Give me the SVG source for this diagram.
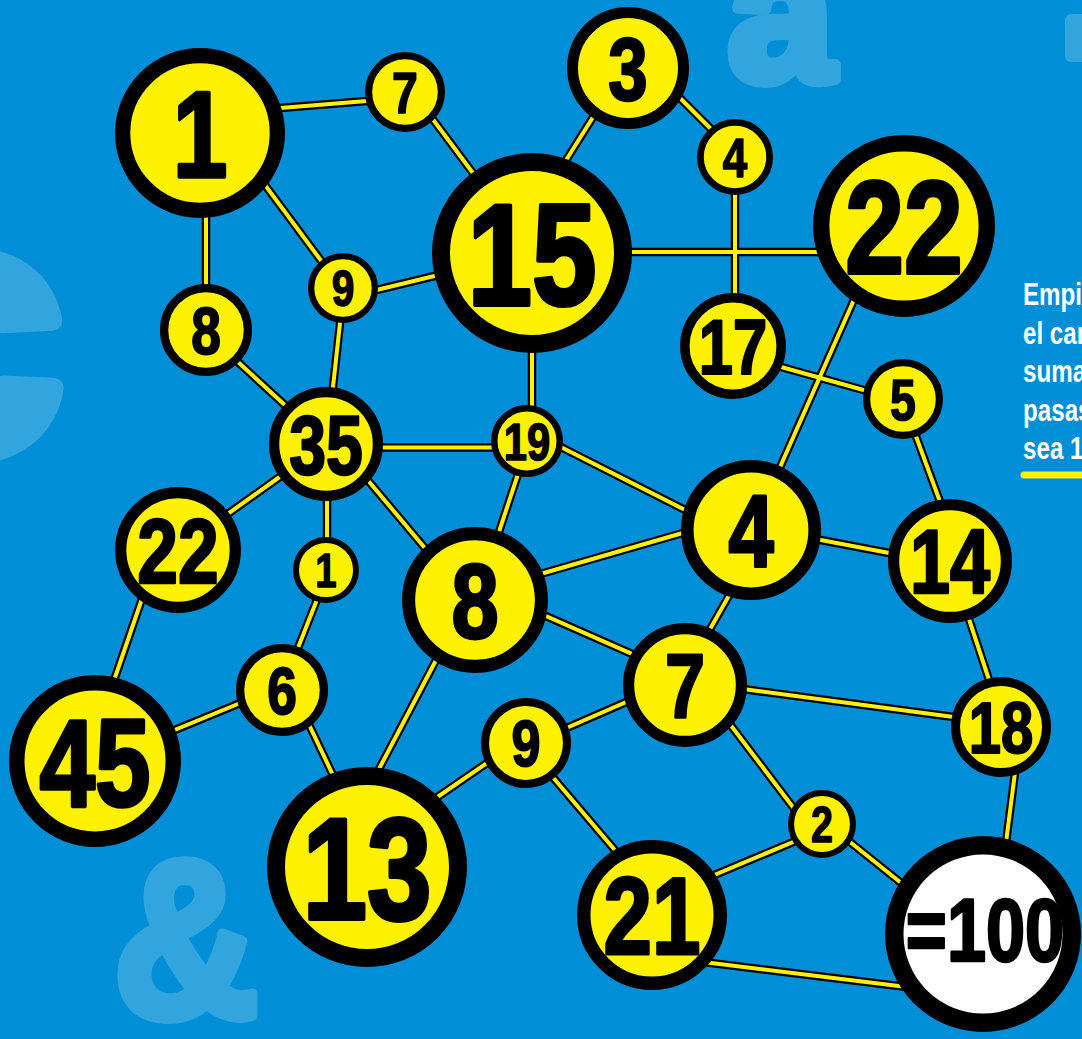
<svg xmlns="http://www.w3.org/2000/svg" width="1082" height="1039" viewBox="0 0 1082 1039">
<style>
.bgl{fill:#33a5de;stroke:#33a5de;stroke-linejoin:round;font-family:"Liberation Sans",Arial,sans-serif;font-weight:bold}
.ek{stroke:#000;stroke-width:8.5;fill:none}
.ey{stroke:#fff200;stroke-width:4;fill:none}
.nd{fill:#fff200;stroke:#000}
.t{font-family:"Liberation Sans",Arial,sans-serif;font-weight:bold;text-anchor:middle;fill:#000;stroke:#000;stroke-linejoin:round}
.side{font-family:"Liberation Sans",Arial,sans-serif;font-weight:bold;fill:#fff;font-size:31px}
</style>
<defs>
<g id="edges">
<line x1="265" y1="109.2" x2="385" y2="99.4"/>
<line x1="206" y1="200" x2="206" y2="300"/>
<line x1="255" y1="171.5" x2="335" y2="279.5"/>
<line x1="420" y1="102" x2="490" y2="196"/>
<line x1="600" y1="106" x2="553" y2="181"/>
<line x1="665" y1="83" x2="725" y2="143"/>
<line x1="735" y1="170" x2="735" y2="310"/>
<line x1="620" y1="252" x2="830" y2="252"/>
<line x1="360" y1="294" x2="455" y2="271"/>
<line x1="342" y1="305" x2="331" y2="405"/>
<line x1="226" y1="351" x2="300" y2="419"/>
<line x1="532" y1="340" x2="532" y2="420"/>
<line x1="370" y1="447.5" x2="505" y2="447.5"/>
<line x1="760" y1="361" x2="885" y2="396"/>
<line x1="858.3" y1="290" x2="769.9" y2="490"/>
<line x1="910" y1="420" x2="946" y2="518"/>
<line x1="545" y1="439" x2="700" y2="517.5"/>
<line x1="295" y1="466" x2="215" y2="523"/>
<line x1="327" y1="485" x2="327" y2="550"/>
<line x1="355" y1="465" x2="440" y2="566"/>
<line x1="521" y1="465" x2="494" y2="547"/>
<line x1="530" y1="577" x2="700" y2="528"/>
<line x1="805" y1="537" x2="905" y2="556"/>
<line x1="735" y1="585" x2="705" y2="638"/>
<line x1="530" y1="609" x2="645" y2="659.6"/>
<line x1="145" y1="590" x2="110" y2="692"/>
<line x1="320" y1="592" x2="294" y2="658"/>
<line x1="160" y1="736" x2="250" y2="699"/>
<line x1="304" y1="714" x2="340" y2="790"/>
<line x1="445" y1="643" x2="368" y2="790"/>
<line x1="966" y1="610" x2="993" y2="692"/>
<line x1="735" y1="688" x2="965" y2="718.5"/>
<line x1="640" y1="696" x2="555" y2="733"/>
<line x1="500" y1="754" x2="420" y2="809"/>
<line x1="545" y1="768" x2="625" y2="862"/>
<line x1="723" y1="715" x2="805" y2="823"/>
<line x1="805" y1="837" x2="700" y2="881"/>
<line x1="840" y1="834" x2="915" y2="894"/>
<line x1="1016" y1="765" x2="1005" y2="850"/>
<line x1="695" y1="961" x2="915" y2="988"/>
</g>
</defs>
<rect x="0" y="0" width="1082" height="1039" fill="#008fd6"/>
<g id="background-letters">
<text class="bgl" x="728" y="80" font-size="190" stroke-width="12">a</text>
<text class="bgl" x="-136" y="451" font-size="360" stroke-width="20">c</text>
<text class="bgl" font-size="225" stroke-width="10" transform="translate(113 1017) scale(0.9 1)">&amp;</text>
<rect x="1065" y="14" width="30" height="48" rx="6" fill="#33a5de"/>
</g>
<g id="connectors">
<use href="#edges" class="ek"/>
<use href="#edges" class="ey"/>
</g>
<g id="n1"><circle class="nd" cx="200" cy="133" r="77.35" stroke-width="15.3"/><text class="t" font-size="123" stroke-width="3.6" transform="translate(200 177) scale(0.8 1)">1</text></g>
<g id="n7a"><circle class="nd" cx="405" cy="92" r="36.4" stroke-width="7.2"/><text class="t" font-size="58" stroke-width="1.7" transform="translate(405 112.8) scale(0.8 1)">7</text></g>
<g id="n3"><circle class="nd" cx="628" cy="68" r="55.5" stroke-width="11"/><text class="t" font-size="88.5" stroke-width="2.6" transform="translate(628 99.7) scale(0.8 1)">3</text></g>
<g id="n4a"><circle class="nd" cx="735" cy="157" r="34.6" stroke-width="6.8"/><text class="t" font-size="55" stroke-width="1.6" transform="translate(735 176.8) scale(0.8 1)">4</text></g>
<g id="n15"><circle class="nd" cx="532" cy="253" r="91" stroke-width="18"/><text class="t" font-size="145" stroke-width="4.2" transform="translate(532 305) scale(0.8 1)">15</text></g>
<g id="n22a"><circle class="nd" cx="904" cy="226" r="82.8" stroke-width="16.4"/><text class="t" font-size="132" stroke-width="3.8" transform="translate(904 273.3) scale(0.8 1)">22</text></g>
<g id="n8a"><circle class="nd" cx="206" cy="330" r="41.9" stroke-width="8.3"/><text class="t" font-size="66.7" stroke-width="2" transform="translate(206 353.9) scale(0.8 1)">8</text></g>
<g id="n9a"><circle class="nd" cx="343" cy="288" r="31.85" stroke-width="6.3"/><text class="t" font-size="50.8" stroke-width="1.5" transform="translate(343 306.2) scale(0.8 1)">9</text></g>
<g id="n17"><circle class="nd" cx="733" cy="346" r="48.2" stroke-width="9.5"/><text class="t" font-size="76.9" stroke-width="2.2" transform="translate(733 373.6) scale(0.8 1)">17</text></g>
<g id="n5"><circle class="nd" cx="903" cy="399" r="36.4" stroke-width="7.2"/><text class="t" font-size="58" stroke-width="1.7" transform="translate(903 419.8) scale(0.8 1)">5</text></g>
<g id="n35"><circle class="nd" cx="326" cy="444" r="51.9" stroke-width="10.3"/><text class="t" font-size="82.7" stroke-width="2.4" transform="translate(326 473.6) scale(0.8 1)">35</text></g>
<g id="n19"><circle class="nd" cx="527" cy="441" r="32.75" stroke-width="6.5"/><text class="t" font-size="52.2" stroke-width="1.5" transform="translate(527 459.7) scale(0.8 1)">19</text></g>
<g id="n4b"><circle class="nd" cx="751" cy="530" r="63.7" stroke-width="12.6"/><text class="t" font-size="101.5" stroke-width="3" transform="translate(751 566.4) scale(0.8 1)">4</text></g>
<g id="n14"><circle class="nd" cx="950" cy="561" r="56.4" stroke-width="11.2"/><text class="t" font-size="90" stroke-width="2.6" transform="translate(950 593.2) scale(0.8 1)">14</text></g>
<g id="n22b"><circle class="nd" cx="178" cy="550" r="57.3" stroke-width="11.3"/><text class="t" font-size="91.4" stroke-width="2.6" transform="translate(178 582.8) scale(0.8 1)">22</text></g>
<g id="n1b"><circle class="nd" cx="326" cy="570" r="30" stroke-width="5.9"/><text class="t" font-size="47.9" stroke-width="1.4" transform="translate(326 587.2) scale(0.8 1)">1</text></g>
<g id="n8b"><circle class="nd" cx="475" cy="600" r="66.4" stroke-width="13.1"/><text class="t" font-size="105.9" stroke-width="3.1" transform="translate(475 638) scale(0.8 1)">8</text></g>
<g id="n7b"><circle class="nd" cx="685" cy="685" r="56.4" stroke-width="11.2"/><text class="t" font-size="90" stroke-width="2.6" transform="translate(685 717.2) scale(0.8 1)">7</text></g>
<g id="n18"><circle class="nd" cx="1001" cy="727" r="45.5" stroke-width="9"/><text class="t" font-size="72.5" stroke-width="2.1" transform="translate(1001 753) scale(0.8 1)">18</text></g>
<g id="n45"><circle class="nd" cx="95" cy="761" r="78.25" stroke-width="15.5"/><text class="t" font-size="124.7" stroke-width="3.6" transform="translate(95 805.7) scale(0.8 1)">45</text></g>
<g id="n6"><circle class="nd" cx="282" cy="690" r="41.9" stroke-width="8.3"/><text class="t" font-size="66.7" stroke-width="2" transform="translate(282 713.9) scale(0.8 1)">6</text></g>
<g id="n9b"><circle class="nd" cx="526" cy="743" r="40.95" stroke-width="8.1"/><text class="t" font-size="65.3" stroke-width="1.9" transform="translate(526 766.4) scale(0.8 1)">9</text></g>
<g id="n13"><circle class="nd" cx="367" cy="867" r="91" stroke-width="18"/><text class="t" font-size="145" stroke-width="4.2" transform="translate(367 919) scale(0.8 1)">13</text></g>
<g id="n2"><circle class="nd" cx="822" cy="824" r="30.95" stroke-width="6.1"/><text class="t" font-size="49.3" stroke-width="1.4" transform="translate(822 841.7) scale(0.8 1)">2</text></g>
<g id="n21"><circle class="nd" cx="652" cy="915" r="68.25" stroke-width="13.5"/><text class="t" font-size="108.8" stroke-width="3.2" transform="translate(652 954) scale(0.8 1)">21</text></g>
<g id="n100"><circle cx="983" cy="934" r="88.75" fill="#fff" stroke="#000" stroke-width="18.5"/><text class="t" font-size="89" stroke-width="2.6" transform="translate(985 961) scale(0.79 1)">=100</text></g>
<g id="side-text">
<text class="side" transform="translate(1023 305) scale(0.78 1)">Empi</text>
<text class="side" transform="translate(1023 343.5) scale(0.78 1)">el car</text>
<text class="side" transform="translate(1023 382) scale(0.78 1)">suma</text>
<text class="side" transform="translate(1023 420.5) scale(0.78 1)">pasas</text>
<text class="side" transform="translate(1023 459) scale(0.78 1)">sea 1</text>
<line x1="1024" y1="475" x2="1100" y2="475" stroke="#fff200" stroke-width="7" stroke-linecap="round"/>
</g>
</svg>
